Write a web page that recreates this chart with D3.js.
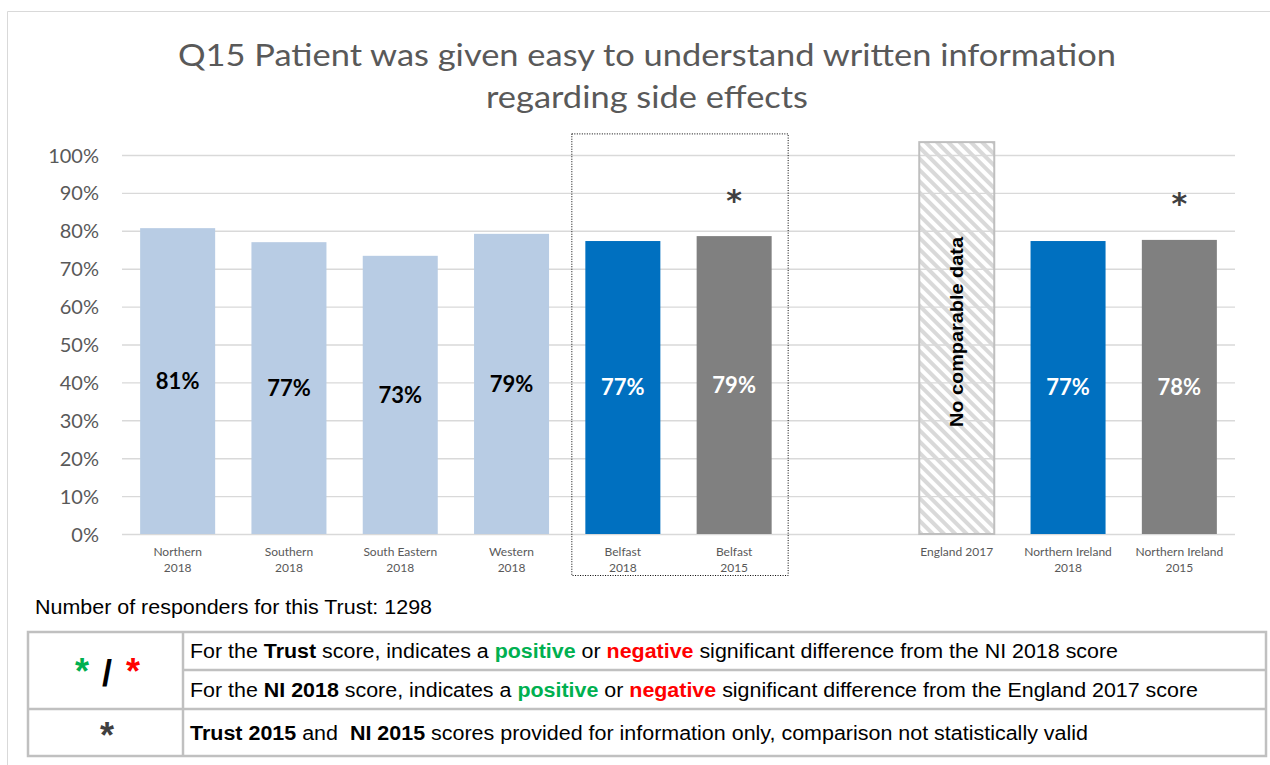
<!DOCTYPE html>
<html>
<head>
<meta charset="utf-8">
<script src="https://cdn.jsdelivr.net/npm/d3@7"></script>
<style>
	html, body { margin: 0; padding: 0; background: #fff; }
	svg { display: block; }
	.title { font-family: Lato, sans-serif; fill: #595959; }
	.tick-label { font-family: Lato, sans-serif; fill: #595959; }
	.table-text { font-family: 'Liberation Sans', Arial, sans-serif; font-size: 19.5px; fill: #000; }
</style>
</head>
<body>
<div id="chart"></div>
<script>
// ********** Q15 BAR CHART **********

// Chart data
const categories = ['Northern\n2018', 'Southern\n2018', 'South Eastern\n2018', 'Western\n2018',
	'Belfast\n2018', 'Belfast\n2015', 'gap', 'England 2017', 'Northern Ireland\n2018', 'Northern Ireland\n2015'];
const scores = [80.7, 77.0, 73.4, 79.2, 77.3, 78.6, null, null, 77.3, 77.6];
const barTypes = ['region', 'region', 'region', 'region', 'trust', 'past', 'gap', 'nodata', 'ni', 'past'];
const starFlags = [false, false, false, false, false, true, false, false, false, true];
const yTicks = [0, 10, 20, 30, 40, 50, 60, 70, 80, 90, 100];
const noDataTop = 103.4;
const titleLines = ['Q15 Patient was given easy to understand written information', 'regarding side effects'];
const responders = 1298;

// Set size and margins
const width = 1270;
const height = 765;
const margin = { top: 155, left: 122, right: 35, bottom: 231 };

// Set colour function
const colors = (type) => {
	const colorRange = {
		region: '#b8cce4',
		trust: '#0070c0',
		ni: '#0070c0',
		past: '#808080'
	};
	return colorRange[type];
};

const svg = d3.select('#chart')
	.append('svg')
	.attr('width', width)
	.attr('height', height);

// Hatch pattern for no data bar
svg.append('defs')
	.append('pattern')
	.attr('id', 'hatch')
	.attr('patternUnits', 'userSpaceOnUse')
	.attr('width', 8)
	.attr('height', 8)
	.attr('patternTransform', 'rotate(-45)')
	.append('rect')
	.attr('width', 4)
	.attr('height', 8)
	.attr('fill', '#d9d9d9');

// Outer chart border (top and left edges)
svg.append('path')
	.attr('d', `M7.5,${height} V11.5 H${width}`)
	.attr('fill', 'none')
	.attr('stroke', '#d9d9d9')
	.attr('stroke-width', 1);

// Title - widths stretched to match the original
const titleWidths = [938, 322];
svg.append('g')
	.attr('class', 'title-group')
	.selectAll('text')
	.data(titleLines)
	.enter()
	.append('text')
	.attr('class', 'title')
	.attr('text-anchor', 'middle')
	.style('font-size', '31px')
	.attr('x', 647)
	.attr('y', (d, i) => 66 + i * 42)
	.attr('textLength', (d, i) => titleWidths[i])
	.attr('lengthAdjust', 'spacingAndGlyphs')
	.text(d => d);

// Scales
const xScale = d3.scaleBand()
	.domain(categories)
	.range([margin.left, width - margin.right])
	.paddingInner(0.326)
	.paddingOuter(0.163);

const yScale = d3.scaleLinear()
	.domain([0, 100])
	.range([height - margin.bottom, margin.top]);

// Gridlines and y axis labels
const yAxis = d3.axisLeft(yScale)
	.tickValues(yTicks)
	.tickSize(-(width - margin.left - margin.right))
	.tickFormat(d => d + '%');

const yAxisGroup = svg.append('g')
	.attr('transform', `translate(${margin.left}, 0)`)
	.call(yAxis);
yAxisGroup.select('.domain').remove();
yAxisGroup.selectAll('.tick line')
	.attr('stroke', '#d9d9d9')
	.attr('stroke-width', 1.4);
yAxisGroup.selectAll('.tick text')
	.attr('class', 'tick-label')
	.attr('x', -23)
	.attr('dy', '0.35em')
	.style('font-size', '20px');

// Bars
const bw = xScale.bandwidth();
const barData = categories.map((c, i) => ({ cat: c, score: scores[i], type: barTypes[i], star: starFlags[i] }));

svg.append('g')
	.selectAll('rect.bar')
	.data(barData.filter(d => d.score !== null))
	.enter()
	.append('rect')
	.attr('class', 'bar')
	.attr('x', d => xScale(d.cat))
	.attr('y', d => yScale(d.score))
	.attr('width', bw)
	.attr('height', d => yScale(0) - yScale(d.score))
	.attr('fill', d => colors(d.type));

// No comparable data bar
const noData = barData.filter(d => d.type === 'nodata');
svg.append('g')
	.selectAll('rect.nodata')
	.data(noData)
	.enter()
	.append('rect')
	.attr('class', 'nodata')
	.attr('x', d => xScale(d.cat))
	.attr('y', yScale(noDataTop))
	.attr('width', bw)
	.attr('height', yScale(0) - yScale(noDataTop))
	.attr('fill', 'url(#hatch)')
	.attr('stroke', '#bfbfbf')
	.attr('stroke-width', 2);

svg.append('g')
	.selectAll('text.nodata-label')
	.data(noData)
	.enter()
	.append('text')
	.attr('class', 'nodata-label')
	.attr('transform', d => `translate(${xScale(d.cat) + bw / 2}, ${(yScale(0) + yScale(noDataTop)) / 2 - 6}) rotate(-90)`)
	.attr('text-anchor', 'middle')
	.attr('dy', '0.35em')
	.attr('textLength', 190)
	.attr('lengthAdjust', 'spacingAndGlyphs')
	.style('font-family', "'Liberation Sans', Arial, sans-serif")
	.style('font-weight', 'bold')
	.style('font-size', '19px')
	.text('No comparable data');

// Value labels in the middle of each bar
svg.append('g')
	.selectAll('text.value')
	.data(barData.filter(d => d.score !== null))
	.enter()
	.append('text')
	.attr('class', 'value')
	.attr('x', d => xScale(d.cat) + bw / 2)
	.attr('y', d => (yScale(0) + yScale(d.score)) / 2)
	.attr('dy', '0.36em')
	.attr('text-anchor', 'middle')
	.style('font-family', 'Lato, sans-serif')
	.style('font-weight', 'bold')
	.style('font-size', '22px')
	.attr('fill', d => d.type === 'region' ? '#000' : '#fff')
	.text(d => Math.round(d.score) + '%');

// Asterisks for 2015 scores
svg.append('g')
	.selectAll('text.star')
	.data(barData.filter(d => d.star))
	.enter()
	.append('text')
	.attr('class', 'star')
	.attr('x', d => xScale(d.cat) + bw / 2)
	.attr('y', d => yScale(d.score) - 44)
	.attr('dy', '0.62em')
	.attr('text-anchor', 'middle')
	.style('font-family', "'DejaVu Sans', sans-serif")
	.style('font-weight', 'bold')
	.style('font-size', '30px')
	.attr('fill', '#404040')
	.text('*');

// X axis labels
const xLabels = svg.append('g')
	.selectAll('text.x-label')
	.data(categories.filter(c => c !== 'gap'))
	.enter()
	.append('text')
	.attr('class', 'tick-label')
	.attr('text-anchor', 'middle')
	.style('font-size', '12px');

xLabels.selectAll('tspan')
	.data(d => d.split('\n').map(line => ({ line, cat: d })))
	.enter()
	.append('tspan')
	.attr('x', d => xScale(d.cat) + bw / 2)
	.attr('y', (d, i) => yScale(0) + 21.5 + i * 16)
	.text(d => d.line);

// Dotted box around the Belfast bars
const boxLeft = xScale('Belfast\n2018') - 14;
const boxRight = xScale('Belfast\n2015') + bw + 16;
svg.append('rect')
	.attr('x', boxLeft + 0.5)
	.attr('y', yScale(105.7) + 0.5)
	.attr('width', boxRight - boxLeft)
	.attr('height', yScale(0) + 41 - yScale(105.7))
	.attr('fill', 'none')
	.attr('stroke', '#000')
	.attr('stroke-width', 1)
	.attr('stroke-dasharray', '1,1.5');

// Number of responders
svg.append('text')
	.attr('class', 'table-text')
	.attr('x', 35)
	.attr('y', 614)
	.attr('textLength', 397)
	.attr('lengthAdjust', 'spacingAndGlyphs')
	.text(`Number of responders for this Trust: ${responders}`);

// ********** KEY TABLE **********
const table = { left: 28, mid: 183, right: 1266, rows: [632, 670, 709, 756] };
const tableGroup = svg.append('g').attr('class', 'key-table');
const lineStyle = sel => sel.attr('stroke', '#c0c0c0').attr('stroke-width', 2.5).attr('fill', 'none');

tableGroup.append('rect')
	.attr('x', table.left)
	.attr('y', table.rows[0])
	.attr('width', table.right - table.left)
	.attr('height', table.rows[3] - table.rows[0])
	.call(lineStyle);
tableGroup.append('line')
	.attr('x1', table.mid).attr('x2', table.mid)
	.attr('y1', table.rows[0]).attr('y2', table.rows[3])
	.call(lineStyle);
tableGroup.append('line')
	.attr('x1', table.mid).attr('x2', table.right)
	.attr('y1', table.rows[1]).attr('y2', table.rows[1])
	.call(lineStyle);
tableGroup.append('line')
	.attr('x1', table.left).attr('x2', table.right)
	.attr('y1', table.rows[2]).attr('y2', table.rows[2])
	.call(lineStyle);

// Key symbols
const keySymbols = [
	{ t: '*', x: 82, y: 684, c: '#00b050' },
	{ t: '/', x: 107, y: 686, c: '#000' },
	{ t: '*', x: 133, y: 684, c: '#ff0000' },
	{ t: '*', x: 107, y: 748, c: '#404040' }
];
tableGroup.selectAll('text.key-symbol')
	.data(keySymbols)
	.enter()
	.append('text')
	.attr('class', 'key-symbol')
	.attr('x', d => d.x)
	.attr('y', d => d.y)
	.attr('text-anchor', 'middle')
	.style('font-family', "'Liberation Sans', Arial, sans-serif")
	.style('font-weight', 'bold')
	.style('font-size', '36px')
	.attr('fill', d => d.c)
	.text(d => d.t);

// Key descriptions - each row built from styled parts
const keyRows = [
	[['For the ', ''], ['Trust', 'b'], [' score, indicates a ', ''], ['positive', 'g'], [' or ', ''], ['negative', 'r'], [' significant difference from the NI 2018 score', '']],
	[['For the ', ''], ['NI 2018', 'b'], [' score, indicates a ', ''], ['positive', 'g'], [' or ', ''], ['negative', 'r'], [' significant difference from the England 2017 score', '']],
	[['Trust 2015', 'b'], [' and  ', ''], ['NI 2015', 'b'], [' scores provided for information only, comparison not statistically valid', '']]
];
const rowWidths = [928, 1008, 898];
const partFill = { '': '#000', b: '#000', g: '#00b050', r: '#ff0000' };

tableGroup.selectAll('text.key-row')
	.data(keyRows)
	.enter()
	.append('text')
	.attr('class', 'table-text key-row')
	.attr('x', 190)
	.attr('y', (d, i) => (table.rows[i] + table.rows[i + 1]) / 2)
	.attr('dy', '0.36em')
	.attr('textLength', (d, i) => rowWidths[i])
	.attr('lengthAdjust', 'spacingAndGlyphs')
	.style('white-space', 'pre')
	.selectAll('tspan')
	.data(d => d)
	.enter()
	.append('tspan')
	.style('font-weight', d => d[1] ? 'bold' : 'normal')
	.attr('fill', d => partFill[d[1]])
	.text(d => d[0]);
</script>
</body>
</html>
